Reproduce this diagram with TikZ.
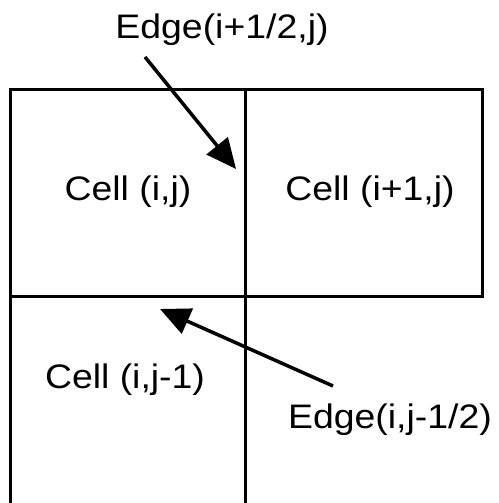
\documentclass[tikz,border=0pt]{standalone}
\usepackage{fontspec}
\setmainfont{Liberation Sans}
\usetikzlibrary{arrows.meta}
\begin{document}
\begin{tikzpicture}[x=1pt,y=-1pt,
  gridline/.style={line width=3pt,line cap=rect},
  lbl/.style={font=\fontsize{34}{34}\selectfont,xscale=1.1,inner sep=0pt,anchor=center},
  ptr/.style={line width=3.5pt,-{Triangle[length=30pt,width=27pt]}}]
\useasboundingbox (0,0) rectangle (498,503);
\draw[gridline] (10,503) -- (10,89) -- (482,89) -- (482,296) -- (10,296);
\draw[gridline] (245,89) -- (245,503);
\node[lbl] (e1) at (222,30) {Edge(i+1/2,j)};
\node[lbl] (c1) at (128,192) {Cell (i,j)};
\node[lbl] (c2) at (370,192) {Cell (i+1,j)};
\node[lbl] (c3) at (125,380) {Cell (i,j-1)};
\node[lbl] (e2) at (390,420) {Edge(i,j-1/2)};
\coordinate (a1s) at (145,57);
\coordinate (a1t) at (236,169);
\coordinate (a2s) at (333,386);
\coordinate (a2t) at (160,309);
\draw[ptr] (a1s) -- (a1t);
\draw[ptr] (a2s) -- (a2t);
\end{tikzpicture}
\end{document}
